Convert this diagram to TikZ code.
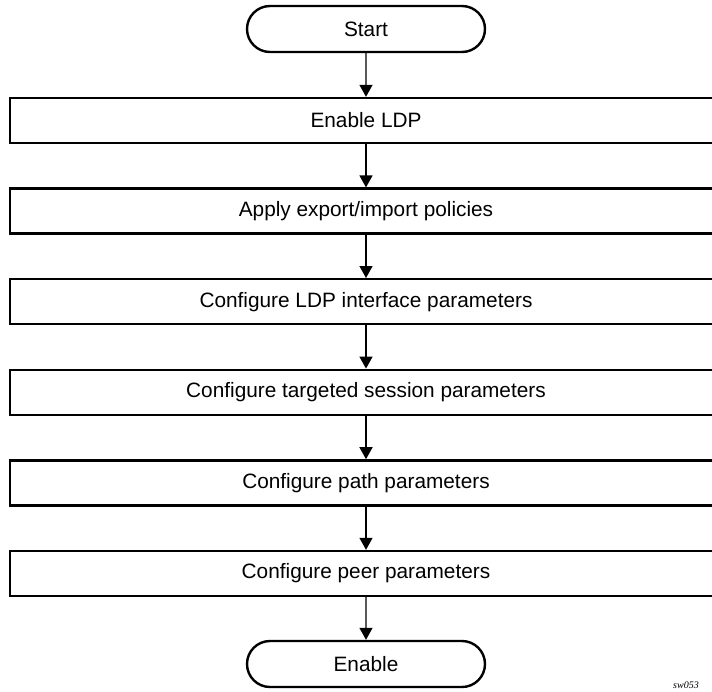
\documentclass[tikz,border=0pt]{standalone}
\usepackage{fontspec}
\setmainfont{Liberation Sans}
\newfontfamily\tagfont{Liberation Serif}
\usepackage{tikz}
\usetikzlibrary{shapes,arrows.meta,positioning}

\tikzset{
  stepbox/.style={draw, line width=2.4pt, minimum width=712pt, minimum height=45pt,
    inner sep=0pt, font=\fontsize{20.8}{24}\selectfont},
  terminal/.style={draw, rounded rectangle, line width=2.4pt, minimum width=238pt,
    minimum height=46pt, inner sep=0pt, font=\fontsize{20.8}{24}\selectfont},
  flow/.style={line width=1.4pt, -{Triangle[width=13pt,length=12pt]}}
}

\begin{document}
\begin{tikzpicture}[x=1pt,y=-1pt]
\useasboundingbox (0,0) rectangle (712,691);

% Start and end
\node[terminal] (start) at (366,29) {Start};
\node[terminal] (enable) at (366,664) {Enable};

% Steps
\node[stepbox] (ldp) at (366,120.5) {Enable LDP};
\node[stepbox] (policies) at (366,211.1) {Apply export/import policies};
\node[stepbox] (iface) at (366,301.7) {Configure LDP interface parameters};
\node[stepbox] (targeted) at (366,392.3) {Configure targeted session parameters};
\node[stepbox] (path) at (366,482.9) {Configure path parameters};
\node[stepbox] (peer) at (366,573.5) {Configure peer parameters};

% Arrows
\draw[flow] (start) -- (ldp);
\draw[flow] (ldp) -- (policies);
\draw[flow] (policies) -- (iface);
\draw[flow] (iface) -- (targeted);
\draw[flow] (targeted) -- (path);
\draw[flow] (path) -- (peer);
\draw[flow] (peer) -- (enable);

% Figure tag
\node[anchor=base west, inner sep=0pt, font=\tagfont\itshape\fontsize{10}{12}\selectfont] (tag) at (673,688.5) {sw053};
\end{tikzpicture}
\end{document}
